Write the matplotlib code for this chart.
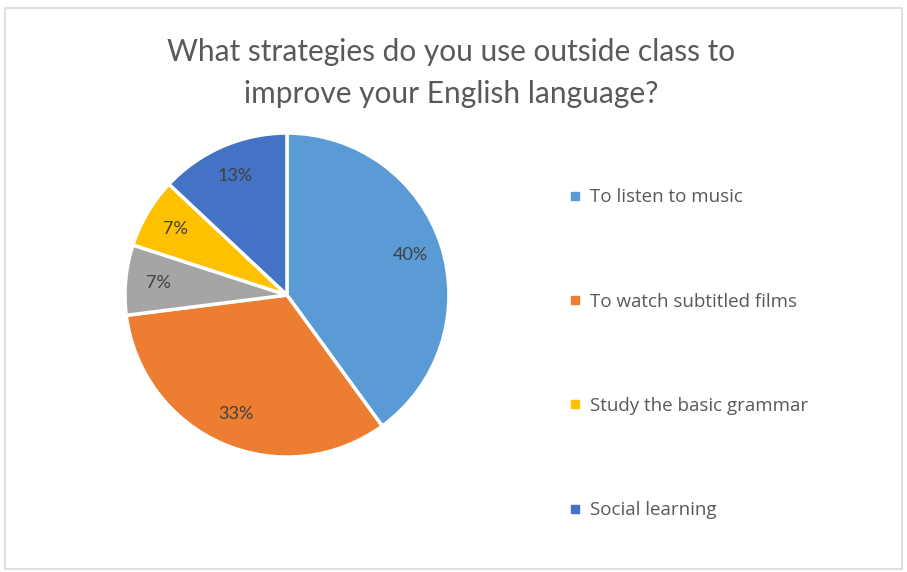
import matplotlib
matplotlib.use('Agg')
import matplotlib.pyplot as plt
from matplotlib.lines import Line2D
from matplotlib.patches import Rectangle

# survey answers, percent of respondents
strategies = ['To listen to music', 'To watch subtitled films', 'Other',
              'Study the basic grammar', 'Social learning']
shares = [40, 33, 7, 7, 13]
colors = ['#5B9BD5', '#ED7D31', '#A5A5A5', '#FFC000', '#4472C4']
in_legend = [True, True, False, True, True]

title = 'What strategies do you use outside class to\nimprove your English language?'

plt.rcParams['font.family'] = ['Lato', 'DejaVu Sans']

fig = plt.figure(figsize=(9.07, 5.72), dpi=100)
fig.patch.set_facecolor('white')
fig.patches.append(Rectangle((0.0055, 0.0052), 0.989, 0.981, transform=fig.transFigure,
                             fill=False, edgecolor='#d9d9d9', linewidth=1.2))

ax = fig.add_axes([0.1378, 0.201, 0.3572, 0.5664])
wedges, texts, autotexts = ax.pie(shares, colors=colors, startangle=90, counterclock=False,
                                  autopct='%1.0f%%', pctdistance=0.8,
                                  wedgeprops=dict(edgecolor='white', linewidth=2.5),
                                  textprops=dict(color='#404040', fontsize=13))
ax.set_xlim(-1.0, 1.0)
ax.set_ylim(-1.0, 1.0)

fig.text(0.497, 0.873, title, ha='center', va='center', fontsize=21.5, color='#595959',
         linespacing=1.6)

handles = []
labels = []
for name, c, show in zip(strategies, colors, in_legend):
    if show:
        handles.append(Line2D([], [], marker='s', linestyle='none', markersize=6,
                              markerfacecolor=c, markeredgecolor=c))
        labels.append(name)
leg = fig.legend(handles, labels, loc='upper left', bbox_to_anchor=(0.605, 0.700),
                 frameon=False, labelspacing=4.6, handletextpad=0.3, handlelength=1.0,
                 prop=dict(family=['Open Sans', 'DejaVu Sans'], size=13.5))
for t in leg.get_texts():
    t.set_color('#595959')

fig.savefig('out.png', dpi=100)
